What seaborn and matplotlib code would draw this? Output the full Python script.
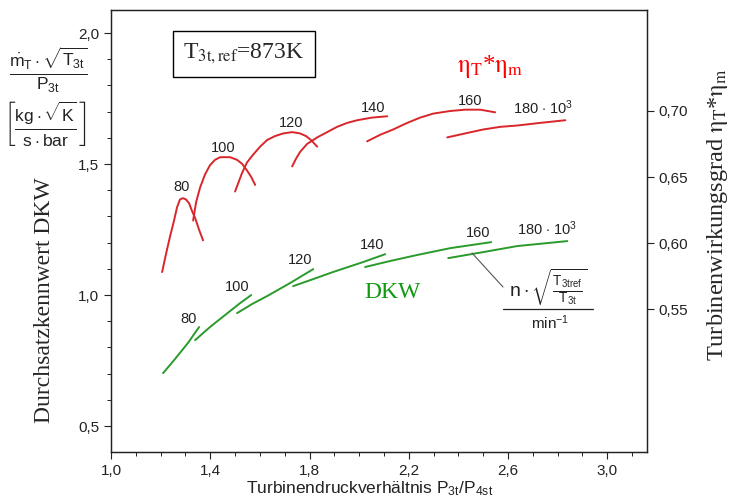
import numpy as np
import pandas as pd
import matplotlib
matplotlib.use("Agg")
import matplotlib.pyplot as plt
from matplotlib.ticker import FixedLocator, FuncFormatter, MultipleLocator
from matplotlib.lines import Line2D
import seaborn as sns

# ---------------- data ----------------
speeds = [80, 100, 120, 140, 160, 180]

# efficiency eta_T*eta_m (right axis)
eta_x = {
    80:  [1.206, 1.222, 1.238, 1.254, 1.266, 1.278, 1.290, 1.302, 1.315, 1.327, 1.339, 1.355, 1.371],
    100: [1.331, 1.343, 1.359, 1.379, 1.399, 1.419, 1.440, 1.460, 1.480, 1.508, 1.528, 1.548, 1.565, 1.581],
    120: [1.500, 1.512, 1.528, 1.548, 1.573, 1.601, 1.629, 1.661, 1.694, 1.730, 1.762, 1.786, 1.806, 1.831],
    140: [1.730, 1.746, 1.762, 1.790, 1.831, 1.871, 1.911, 1.952, 1.992, 2.052, 2.113],
    160: [2.032, 2.085, 2.137, 2.194, 2.246, 2.298, 2.367, 2.427, 2.488, 2.548],
    180: [2.355, 2.427, 2.500, 2.569, 2.637, 2.730, 2.831],
}
eta_y = {
    80:  [0.578, 0.592, 0.605, 0.617, 0.627, 0.633, 0.634, 0.633, 0.630, 0.624, 0.619, 0.610, 0.602],
    100: [0.617, 0.631, 0.642, 0.652, 0.659, 0.663, 0.665, 0.665, 0.665, 0.663, 0.660, 0.655, 0.650, 0.644],
    120: [0.639, 0.645, 0.653, 0.661, 0.667, 0.673, 0.678, 0.681, 0.683, 0.684, 0.683, 0.681, 0.678, 0.673],
    140: [0.658, 0.664, 0.669, 0.675, 0.680, 0.684, 0.688, 0.691, 0.693, 0.695, 0.696],
    160: [0.677, 0.682, 0.686, 0.691, 0.695, 0.698, 0.700, 0.701, 0.701, 0.699],
    180: [0.680, 0.683, 0.686, 0.688, 0.689, 0.691, 0.693],
}

# flow parameter DKW (left axis)
dkw_x = {
    80:  [1.210, 1.258, 1.310, 1.355],
    100: [1.339, 1.399, 1.460, 1.520, 1.565],
    120: [1.508, 1.569, 1.629, 1.722, 1.815],
    140: [1.734, 1.815, 1.895, 2.016, 2.105],
    160: [2.024, 2.125, 2.234, 2.367, 2.532],
    180: [2.359, 2.500, 2.637, 2.839],
}
dkw_y = {
    80:  [0.702, 0.756, 0.817, 0.878],
    100: [0.828, 0.878, 0.924, 0.969, 1.000],
    120: [0.931, 0.966, 0.996, 1.046, 1.099],
    140: [1.034, 1.061, 1.088, 1.126, 1.156],
    160: [1.107, 1.130, 1.153, 1.179, 1.202],
    180: [1.141, 1.164, 1.187, 1.206],
}

x_ticks = [1.0, 1.4, 1.8, 2.2, 2.6, 3.0]
left_ticks = [0.5, 1.0, 1.5, 2.0]
right_ticks = [0.55, 0.60, 0.65, 0.70]
speed_labels = ["80", "100", "120", "140", "160", r"180 $\cdot$ 10$^3$"]

# ---------------- style ----------------
sns.set_style("ticks")
plt.rcParams["font.family"] = ["Liberation Sans", "DejaVu Sans"]
plt.rcParams["mathtext.fontset"] = "custom"
plt.rcParams["mathtext.rm"] = "Liberation Sans"
plt.rcParams["mathtext.it"] = "Liberation Sans"
plt.rcParams["mathtext.bf"] = "Liberation Sans:bold"

RED = "#d8262b"
GREEN = "#2a9a2a"
INK = "#222222"
W, H = 736, 501

def fp(x, y):
    return (x / W, 1 - y / H)

def long_df(xd, yd):
    rows = []
    for s in speeds:
        for xv, yv in zip(xd[s], yd[s]):
            rows.append({"ratio": xv, "val": yv, "n": s})
    return pd.DataFrame(rows)

df_eta = long_df(eta_x, eta_y)
df_dkw = long_df(dkw_x, dkw_y)

fig = plt.figure(figsize=(W / 100, H / 100), dpi=100)
ax = fig.add_axes([111 / W, 1 - 452 / H, (647 - 111) / W, (452 - 10) / H])
ax2 = ax.twinx()

sns.lineplot(data=df_dkw, x="ratio", y="val", units="n", estimator=None,
             sort=False, color=GREEN, linewidth=1.4, ax=ax)
sns.lineplot(data=df_eta, x="ratio", y="val", units="n", estimator=None,
             sort=False, color=RED, linewidth=1.4, ax=ax2)

ax.set_xlim(1.0, 3.16)
ax.set_ylim(0.401, 2.088)
ax2.set_ylim(0.4417, 0.7765)

comma = FuncFormatter(lambda v, p: f"{v:.1f}".replace(".", ","))
comma2 = FuncFormatter(lambda v, p: f"{v:.2f}".replace(".", ","))
ax.xaxis.set_major_locator(FixedLocator(x_ticks))
ax.xaxis.set_major_formatter(comma)
ax.xaxis.set_minor_locator(MultipleLocator(0.1))
ax.yaxis.set_major_locator(FixedLocator(left_ticks))
ax.yaxis.set_major_formatter(comma)
ax.yaxis.set_minor_locator(FixedLocator(np.arange(0.5, 2.05, 0.1)))
ax2.yaxis.set_major_locator(FixedLocator(right_ticks))
ax2.yaxis.set_major_formatter(comma2)

for a in (ax, ax2):
    for sp in a.spines.values():
        sp.set_visible(True)
        sp.set_color(INK)
        sp.set_linewidth(0.9)
    a.set_xlabel("")
    a.set_ylabel("")
ax.tick_params(which="major", direction="out", length=5, width=0.8,
               labelsize=11, colors=INK, top=False, right=False)
ax.tick_params(which="minor", direction="out", length=3, width=0.7,
               colors=INK, top=False, right=False)
ax2.tick_params(axis="y", which="major", direction="out", length=5, width=0.8,
                labelsize=11, colors=INK, left=False, right=True)
ax2.tick_params(axis="y", which="minor", right=False, left=False)

# axis labels
fig.text(*fp(370, 489), r"Turbinendruckverhältnis P$_{\mathrm{3t}}$/P$_{\mathrm{4st}}$",
         ha="center", va="center", fontsize=12.5, color=INK)
fig.text(*fp(45, 300), "Durchsatzkennwert DKW", rotation=90, ha="center", va="center",
         fontsize=17, family="Liberation Serif")
fig.text(*fp(718, 215), r"Turbinenwirkungsgrad $\mathrm{\eta_T}$*$\mathrm{\eta_m}$",
         rotation=90, ha="center", va="center", fontsize=17.5,
         family="Liberation Serif", math_fontfamily="stix")

# unit block top-left
fig.text(*fp(48, 70),
         r"$\frac{\dot{\mathrm{m}}_{\mathrm{T}}\cdot\sqrt{\mathrm{T}_{\mathrm{3t}}}}{\mathrm{P}_{\mathrm{3t}}}$",
         ha="center", va="center", fontsize=18, color=INK)
fig.text(*fp(45, 124),
         r"$\left[\frac{\mathrm{kg}\cdot\sqrt{\mathrm{K}}}{\mathrm{s}\cdot\mathrm{bar}}\right]$",
         ha="center", va="center", fontsize=18, color=INK)

# reference temperature box
fig.text(*fp(244, 54), r"T$_{\mathrm{3t,ref}}$=873K", ha="center", va="center",
         fontsize=17, family="Liberation Serif", math_fontfamily="stix",
         bbox=dict(boxstyle="square,pad=0.45", fc="white", ec="black", lw=1.0))

# series labels
fig.text(*fp(490, 66), r"$\mathrm{\eta_T}$*$\mathrm{\eta_m}$", ha="center", va="center",
         fontsize=18, color="#ff0000", family="Liberation Serif", math_fontfamily="stix")
fig.text(*fp(392, 292), "DKW", ha="center", va="center",
         fontsize=17, color="#109a10", family="Liberation Serif")

# speed labels
red_pos = [(182, 187), (223, 148), (291, 123), (373, 108), (470, 101), (543, 108)]
green_pos = [(189, 319), (237, 287), (300, 260), (372, 245), (478, 233), (547, 229)]
for lab, (px, py) in zip(speed_labels, red_pos):
    fig.text(*fp(px, py), lab, ha="center", va="center", fontsize=10.5, color=INK)
for lab, (px, py) in zip(speed_labels, green_pos):
    fig.text(*fp(px, py), lab, ha="center", va="center", fontsize=10.5, color=INK)

# speed parameter annotation
fig.add_artist(Line2D([472 / W, 503 / W], [1 - 253 / H, 1 - 287 / H],
                      color="#555555", lw=0.8, transform=fig.transFigure))
fig.text(*fp(548, 287),
         r"$\mathrm{n}\cdot\sqrt{\frac{\mathrm{T}_{\mathrm{3tref}}}{\mathrm{T}_{\mathrm{3t}}}}$",
         ha="center", va="center", fontsize=14, color=INK)
fig.add_artist(Line2D([503 / W, 593 / W], [1 - 309 / H, 1 - 309 / H],
                      color=INK, lw=0.9, transform=fig.transFigure))
fig.text(*fp(550, 323), r"min$^{-1}$", ha="center", va="center", fontsize=11, color=INK)

fig.savefig("out.png", dpi=100)
